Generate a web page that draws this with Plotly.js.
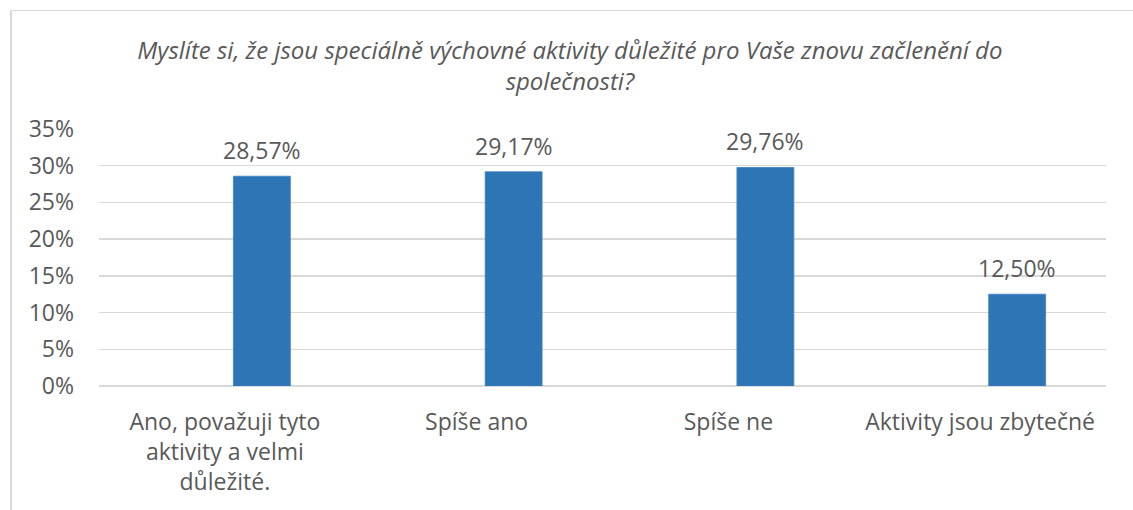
<!DOCTYPE html>
<html>
<head>
<meta charset="utf-8">
<script src="https://cdn.plot.ly/plotly-3.0.1.min.js"></script>
<style>
  html, body { margin: 0; padding: 0; background: #fff; }
  #wrap { position: relative; width: 1133px; height: 510px; overflow: hidden; }
  #frame { position: absolute; left: 10px; top: 10px; width: 1200px; height: 600px;
           border-left: 2px solid #D9D9D9; border-top: 1.5px solid #D9D9D9; pointer-events: none; }
  #chart { position: absolute; left: 0; top: 0; width: 1133px; height: 510px; }
</style>
</head>
<body>
<div id="wrap">
  <div id="chart"></div>
  <div id="frame"></div>
</div>
<script>
// ---- data ----
const titleText = "Myslíte si, že jsou speciálně výchovné aktivity důležité pro Vaše znovu začlenění do<br>společnosti?";
const categories = ["Ano, považuji tyto aktivity a velmi důležité.", "Spíše ano", "Spíše ne", "Aktivity jsou zbytečné"];
const tickLabels = ["Ano, považuji tyto<br>aktivity a velmi<br>důležité.", "Spíše ano", "Spíše ne", "Aktivity jsou zbytečné"];
const values = [28.57, 29.17, 29.76, 12.50];
const yTickVals = [0, 5, 10, 15, 20, 25, 30, 35];
const yTickText = ["0%", "5%", "10%", "15%", "20%", "25%", "30%", "35%"];

// ---- styling ----
const FONT = "Open Sans, sans-serif";
const TXT = "#595959";
const BAR = "#2E75B6";
const GRID = "#D9D9D9";
const barOffset = 0.034, barWidth = 0.226;

const trace = {
  type: "bar",
  x: categories,
  y: values,
  offset: barOffset,
  width: barWidth,
  marker: { color: BAR, line: { color: "#3A80C0", width: 0.8 } },
  hoverinfo: "x+y",
  showlegend: false
};

const annotations = values.map((v, i) => ({
  xref: "x", yref: "y",
  x: i + barOffset + barWidth / 2,
  y: v,
  text: v.toFixed(2).replace(".", ",") + "%",
  showarrow: false,
  yanchor: "middle",
  yshift: 26,
  font: { family: FONT, size: 23, color: TXT }
}));

const layout = {
  width: 1133, height: 510,
  paper_bgcolor: "rgba(0,0,0,0)",
  plot_bgcolor: "rgba(0,0,0,0)",
  margin: { l: 99, r: 27, t: 129, b: 124 },
  title: {
    text: titleText,
    x: 0.503, xref: "container", xanchor: "center",
    y: 1 - 59 / 510, yref: "container", yanchor: "middle",
    font: { family: FONT, size: 24, color: TXT, style: "italic" }
  },
  xaxis: {
    type: "category",
    tickvals: categories,
    ticktext: tickLabels,
    range: [-0.5, 3.5],
    showgrid: false,
    showline: false,
    zeroline: false,
    ticks: "",
    ticklabelstandoff: 20,
    tickfont: { family: FONT, size: 23, color: TXT },
    fixedrange: true
  },
  yaxis: {
    range: [0, 35],
    tickvals: yTickVals,
    ticktext: yTickText,
    showgrid: true,
    gridcolor: GRID,
    gridwidth: 1.5,
    zeroline: true,
    zerolinecolor: GRID,
    zerolinewidth: 1.5,
    showline: false,
    ticks: "",
    ticklabelstandoff: 24,
    tickfont: { family: FONT, size: 23, color: TXT },
    fixedrange: true
  },
  annotations: annotations,
  bargap: 0
};

Plotly.newPlot("chart", [trace], layout, { displayModeBar: false, staticPlot: true });
</script>
</body>
</html>
